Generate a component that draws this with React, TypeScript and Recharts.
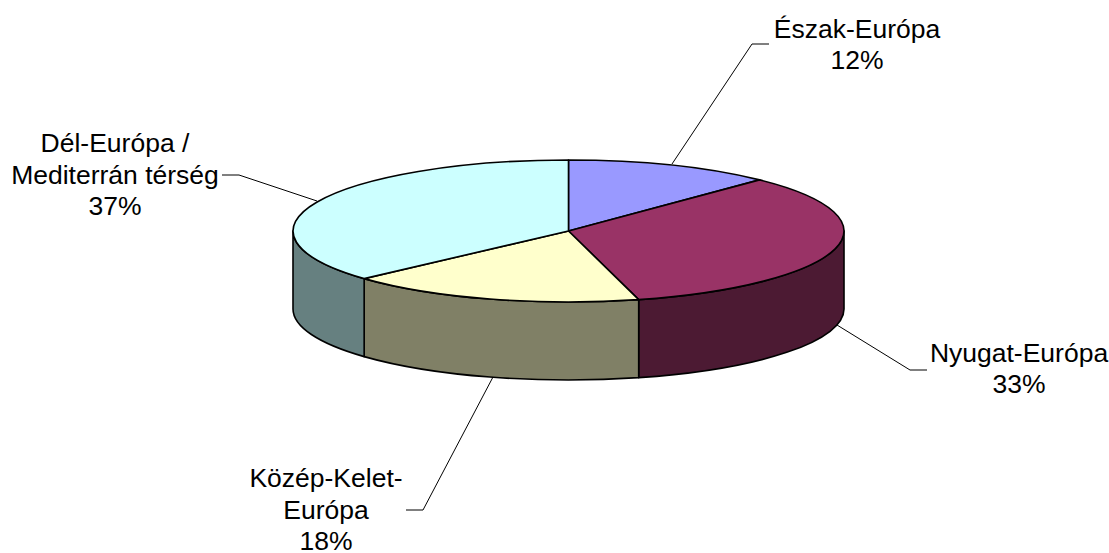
import { PieChart, Pie } from "recharts";

// slice shares, printed percentages as on the labels
const regions = ["Észak-Európa", "Nyugat-Európa", "Közép-Kelet-Európa", "Dél-Európa / Mediterrán térség"];
const shares = [12.2, 33.7, 17.4, 36.7];
const percentLabels = ["12%", "33%", "18%", "37%"];
const labelLines = [
  ["Észak-Európa"],
  ["Nyugat-Európa"],
  ["Közép-Kelet-", "Európa"],
  ["Dél-Európa /", "Mediterrán térség"],
];

const topColors = ["#9999FF", "#993366", "#FFFFCC", "#CCFFFF"];
const sideColors = ["#4D4D80", "#4C1A33", "#808066", "#668080"];

// callout placement for each label: text centre, first baseline, leader line
const callouts = [
  { x: 857, y: 38, step: 31, points: "672,164 752,44 769,44" },
  { x: 1019, y: 362, step: 31, points: "837,325 910,370 927,370" },
  { x: 326, y: 487, step: 31.5, points: "493,377 423,510 406,510" },
  { x: 115, y: 152, step: 31.5, points: "317,201 239,175 222,175" },
];

const TILT = 71 / 275.5;
const DEPTH = 78;

const chartData = regions.map((name, i) => ({ name, share: shares[i] }));

// flat sector squashed into an ellipse, with its wall under the front rim
const Slice3D = (props: any) => {
  const { cx, cy, outerRadius, startAngle, endAngle, index } = props;
  const rx = outerRadius;
  const ry = outerRadius * TILT;
  const at = (deg: number, dy = 0) => {
    const rad = (deg * Math.PI) / 180;
    return `${cx + rx * Math.cos(rad)} ${cy - ry * Math.sin(rad) + dy}`;
  };
  const large = Math.abs(endAngle - startAngle) > 180 ? 1 : 0;
  const top = `M ${cx} ${cy} L ${at(startAngle)} A ${rx} ${ry} 0 ${large} 1 ${at(endAngle)} Z`;

  // front half of the rim runs from 0 down to -180 degrees
  const wallStart = Math.min(startAngle, 0);
  const wallEnd = Math.max(endAngle, -180);
  const hasWall = wallStart > wallEnd;
  const wall = hasWall
    ? `M ${at(wallStart)} A ${rx} ${ry} 0 0 1 ${at(wallEnd)} L ${at(wallEnd, DEPTH)} A ${rx} ${ry} 0 0 0 ${at(wallStart, DEPTH)} Z`
    : "";

  return (
    <g>
      {hasWall && <path d={wall} fill={sideColors[index]} stroke="#000" strokeWidth={1.6} strokeLinejoin="round" />}
      <path d={top} fill={topColors[index]} stroke="#000" strokeWidth={1.6} strokeLinejoin="round" />
    </g>
  );
};

const renderCallout = (props: any) => {
  const { index } = props;
  const c = callouts[index];
  const lines = [...labelLines[index], percentLabels[index]];
  return (
    <g>
      <polyline points={c.points} fill="none" stroke="#000" strokeWidth={1} />
      <text x={c.x} y={c.y} textAnchor="middle" fontFamily="'Liberation Sans', Arial, sans-serif" fontSize={26.5} fill="#000">
        {lines.map((line, i) => (
          <tspan key={i} x={c.x} y={c.y + i * c.step}>
            {line}
          </tspan>
        ))}
      </text>
    </g>
  );
};

export default function App() {
  return (
    <div style={{ width: 1109, height: 553, background: "#fff" }}>
      <style>{"body { margin: 0; }"}</style>
      <PieChart width={1109} height={553} margin={{ top: 0, right: 0, bottom: 0, left: 0 }}>
        <Pie
          data={chartData}
          dataKey="share"
          nameKey="name"
          cx={568.5}
          cy={231}
          innerRadius={0}
          outerRadius={275.5}
          startAngle={90}
          endAngle={-270}
          stroke="none"
          shape={Slice3D}
          label={renderCallout}
          labelLine={false}
          isAnimationActive={false}
        />
      </PieChart>
    </div>
  );
}
